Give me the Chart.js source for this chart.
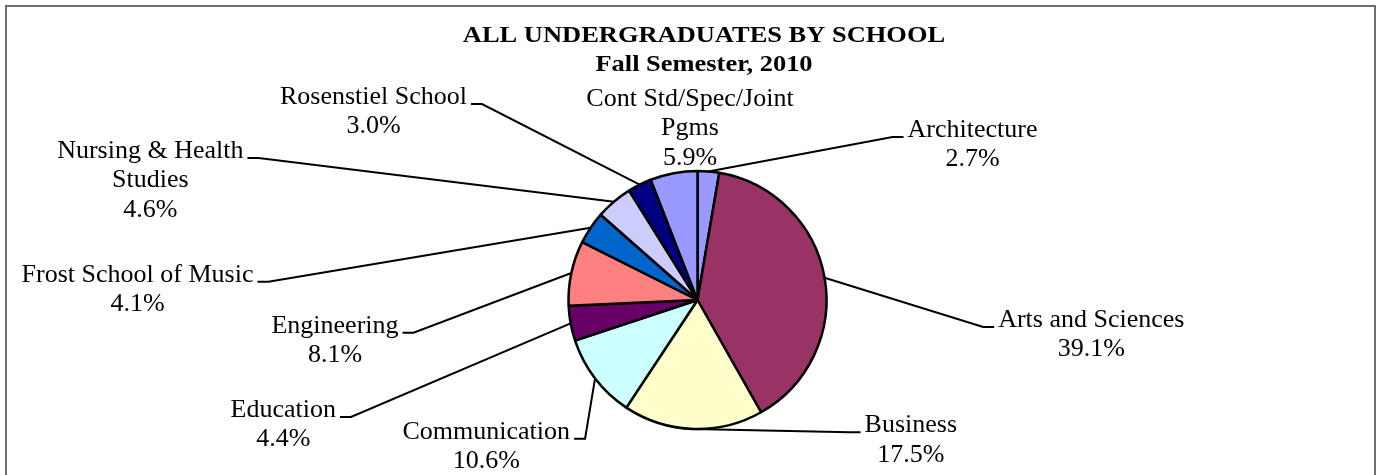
<!DOCTYPE html>
<html>
<head>
<meta charset="utf-8">
<script src="https://cdn.jsdelivr.net/npm/chart.js@4.4.1/dist/chart.umd.min.js"></script>
<style>
  html, body { margin: 0; padding: 0; background: #ffffff; }
  #wrap { position: relative; width: 1380px; height: 475px; }
  canvas { display: block; }
</style>
</head>
<body>
<div id="wrap"><canvas id="c" width="1380" height="475"></canvas></div>
<script>
// ---- Data ----
const categories = [
  "Architecture", "Arts and Sciences", "Business", "Communication", "Education",
  "Engineering", "Frost School of Music", "Nursing & Health Studies", "Rosenstiel School",
  "Cont Std/Spec/Joint Pgms"
];
const labelLines = [
  ["Architecture"], ["Arts and Sciences"], ["Business"], ["Communication"], ["Education"],
  ["Engineering"], ["Frost School of Music"], ["Nursing & Health", "Studies"], ["Rosenstiel School"],
  ["Cont Std/Spec/Joint", "Pgms"]
];
const percentages = [2.7, 39.1, 17.5, 10.6, 4.4, 8.1, 4.1, 4.6, 3.0, 5.9];
const sliceColors = [
  "#9999FF", "#993366", "#FFFFCC", "#CCFFFF", "#660066",
  "#FF8080", "#0066CC", "#CCCCFF", "#000080", "#9999FF"
];
const titleLines = ["ALL UNDERGRADUATES BY SCHOOL", "Fall Semester, 2010"];

// ---- Layout (label placement only) ----
const labelLayout = [
  { x: 972.5,  y: 130,   side: "left"  },
  { x: 1091.3, y: 320,   side: "left"  },
  { x: 910.8,  y: 425.3, side: "left"  },
  { x: 486.3,  y: 431.7, side: "right" },
  { x: 283.3,  y: 410,   side: "right" },
  { x: 335,    y: 325.7, side: "right" },
  { x: 137.5,  y: 274.7, side: "right" },
  { x: 150.3,  y: 151,   side: "right" },
  { x: 373.5,  y: 97,    side: "right" },
  { x: 690,    y: 98.7,  side: null    }
];
const LINE_H = 29.5;
const LABEL_FONT = "26px 'Liberation Serif', 'Times New Roman', serif";
const TITLE_FONT = "bold 23px 'Liberation Serif', 'Times New Roman', serif";

const framePlugin = {
  id: "frame",
  beforeDraw(chart) {
    const ctx = chart.ctx;
    ctx.save();
    ctx.fillStyle = "#ffffff";
    ctx.fillRect(0, 0, chart.width, chart.height);
    ctx.strokeStyle = "#6e6e6e";
    ctx.lineWidth = 2;
    ctx.strokeRect(6, 6, 1369, 480);
    ctx.restore();
  }
};

const labelPlugin = {
  id: "pieLabels",
  afterDraw(chart) {
    const ctx = chart.ctx;
    const meta = chart.getDatasetMeta(0);
    ctx.save();
    // Title (slightly widened, as in the reference rendering)
    ctx.fillStyle = "#000";
    ctx.font = TITLE_FONT;
    ctx.textAlign = "center";
    ctx.textBaseline = "middle";
    const titleYs = [36, 65.5];
    titleLines.forEach((t, i) => {
      ctx.save();
      ctx.translate(704, titleYs[i]);
      ctx.scale(1.15, 1);
      ctx.fillText(t, 0, 0);
      ctx.restore();
    });

    ctx.font = LABEL_FONT;
    meta.data.forEach((arc, i) => {
      const lay = labelLayout[i];
      const lines = labelLines[i].concat([percentages[i].toFixed(1) + "%"]);
      lines.forEach((t, j) => ctx.fillText(t, lay.x, lay.y + j * LINE_H));
      if (!lay.side) return;
      const w = ctx.measureText(labelLines[i][0]).width;
      const mid = (arc.startAngle + arc.endAngle) / 2;
      const ax = arc.x + Math.cos(mid) * arc.outerRadius;
      const ay = arc.y + Math.sin(mid) * arc.outerRadius;
      const ly = lay.y + 7;
      let ex, hx;
      if (lay.side === "right") { ex = lay.x + w / 2 + 4; hx = ex + 11; }
      else { ex = lay.x - w / 2 - 4; hx = ex - 11; }
      ctx.beginPath();
      ctx.strokeStyle = "#000";
      ctx.lineWidth = 2;
      ctx.moveTo(ex, ly);
      ctx.lineTo(hx, ly);
      ctx.lineTo(ax, ay);
      ctx.stroke();
    });
    ctx.restore();
  }
};

new Chart(document.getElementById("c"), {
  type: "pie",
  data: {
    labels: categories,
    datasets: [{
      data: percentages,
      backgroundColor: sliceColors,
      borderColor: "#000000",
      borderWidth: 2.5,
      radius: 129
    }]
  },
  options: {
    responsive: false,
    animation: false,
    events: [],
    layout: { padding: { top: 171, bottom: 46, left: 500, right: 485 } },
    plugins: {
      legend: { display: false },
      tooltip: { enabled: false },
      title: { display: false }
    }
  },
  plugins: [framePlugin, labelPlugin]
});
</script>
</body>
</html>
